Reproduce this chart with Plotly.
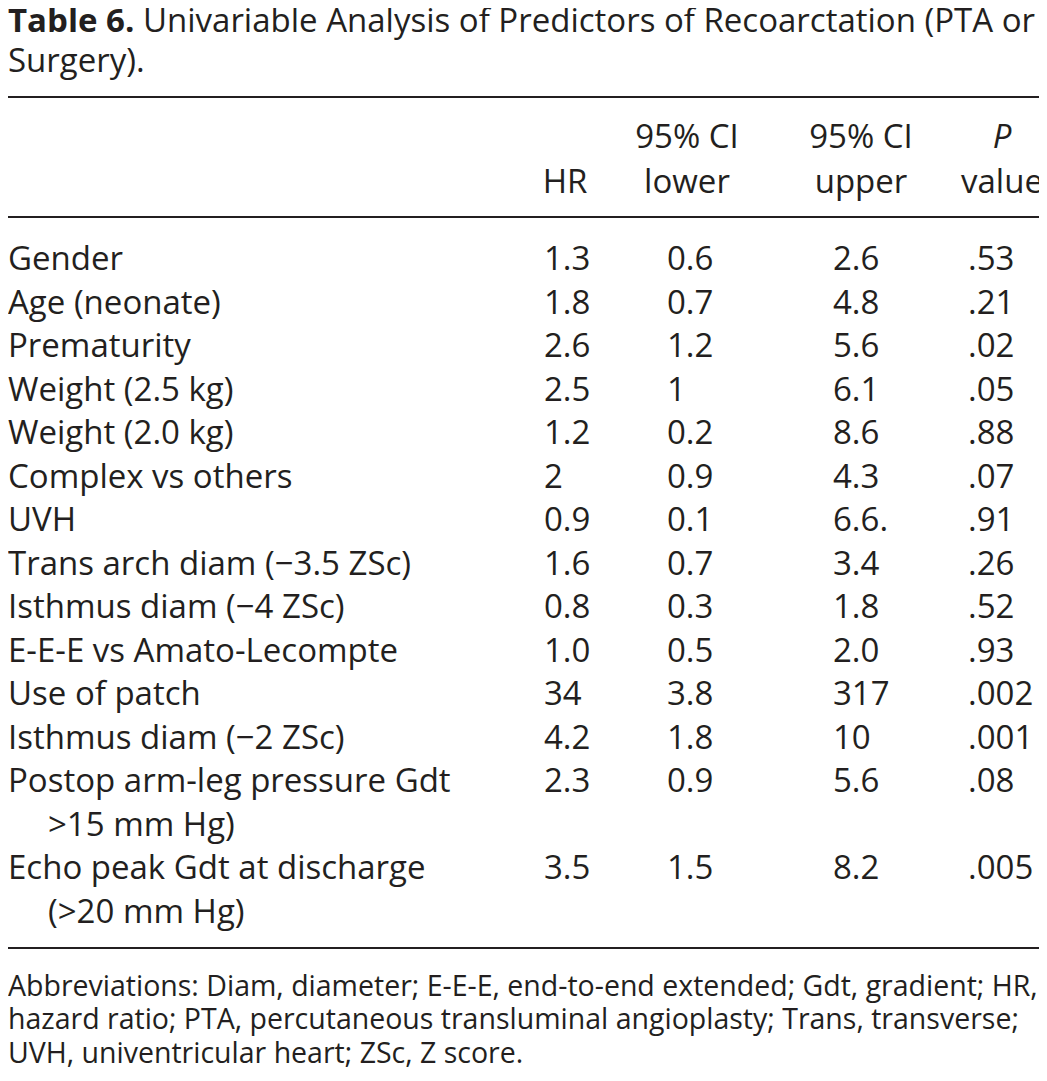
import plotly.graph_objects as go

# table content
title_lines = [
    "<b>Table 6.</b> Univariable Analysis of Predictors of Recoarctation (PTA or",
    "Surgery).",
]
col_headers = ["HR", "95% CI<br>lower", "95% CI<br>upper", "<i>P</i><br>value"]
predictors = [
    "Gender",
    "Age (neonate)",
    "Prematurity",
    "Weight (2.5 kg)",
    "Weight (2.0 kg)",
    "Complex vs others",
    "UVH",
    "Trans arch diam (\u22123.5 ZSc)",
    "Isthmus diam (\u22124 ZSc)",
    "E-E-E vs Amato-Lecompte",
    "Use of patch",
    "Isthmus diam (\u22122 ZSc)",
    "Postop arm-leg pressure Gdt<br>>15 mm Hg)",
    "Echo peak Gdt at discharge<br>(>20 mm Hg)",
]
hr = ["1.3", "1.8", "2.6", "2.5", "1.2", "2", "0.9", "1.6", "0.8", "1.0", "34", "4.2", "2.3", "3.5"]
ci_lower = ["0.6", "0.7", "1.2", "1", "0.2", "0.9", "0.1", "0.7", "0.3", "0.5", "3.8", "1.8", "0.9", "1.5"]
ci_upper = ["2.6", "4.8", "5.6", "6.1", "8.6", "4.3", "6.6.", "3.4", "1.8", "2.0", "317", "10", "5.6", "8.2"]
p_value = [".53", ".21", ".02", ".05", ".88", ".07", ".91", ".26", ".52", ".93", ".002", ".001", ".08", ".005"]
footnote_lines = [
    "Abbreviations: Diam, diameter; E-E-E, end-to-end extended; Gdt, gradient; HR,",
    "hazard ratio; PTA, percutaneous transluminal angioplasty; Trans, transverse;",
    "UVH, univentricular heart; ZSc, Z score.",
]

W, H = 1047, 1081
PAGE_PAD = 8  # default body margin of the html page
ink = "#231f20"
font_name = "Open Sans"
body_size = 33
title_size = 33
note_size = 28.5

# layout of the page (axis units = window pixels, y pointing down)
left_x = PAGE_PAD
first_row = 258
pitch = 43.5
indent = 40
value_x = [544, 667, 833, 968]
header_x = [565, 687, 861, 1002]
header_y = [136, 181]
title_y = [20, 60]
note_y = [985, 1018.5, 1052]
rules_y = [97, 217, 948]

# split labels over lines, rows follow each other line by line
first_y, first_txt, cont_y, cont_txt, row_y = [], [], [], [], []
line = 0
for label in predictors:
    parts = label.split("<br>")
    y0 = first_row + line * pitch
    row_y.append(y0)
    first_y.append(y0)
    first_txt.append(parts[0])
    for k, extra in enumerate(parts[1:], start=1):
        cont_y.append(first_row + (line + k) * pitch)
        cont_txt.append(extra)
    line += len(parts)

fig = go.Figure()


def add_text(xs, ys, texts, size, pos="middle right"):
    # plotly centres the text box a little above the cap-height middle
    nudge = 0.12 * size
    fig.add_trace(go.Scatter(
        x=xs, y=[v + nudge for v in ys], text=texts, mode="text", textposition=pos,
        textfont=dict(family=font_name, size=size, color=ink),
        marker=dict(size=0), cliponaxis=False,
        hoverinfo="skip", showlegend=False,
    ))


add_text([left_x] * len(title_lines), title_y, title_lines, title_size)
add_text([left_x] * len(first_txt), first_y, first_txt, body_size)
add_text([left_x + indent] * len(cont_txt), cont_y, cont_txt, body_size)

for cx, head in zip(header_x, col_headers):
    parts = head.split("<br>")
    ys = header_y[len(header_y) - len(parts):]
    add_text([cx] * len(parts), ys, parts, body_size, pos="middle center")

for vx, col in zip(value_x, [hr, ci_lower, ci_upper, p_value]):
    add_text([vx] * len(col), row_y, col, body_size)

add_text([left_x] * len(footnote_lines), note_y, footnote_lines, note_size)

for ry in rules_y:
    fig.add_shape(type="line", xref="x", yref="y", x0=0, x1=W, y0=ry, y1=ry,
                  line=dict(color=ink, width=2))

fig.update_layout(
    width=W - PAGE_PAD, height=H - PAGE_PAD,
    margin=dict(l=0, r=0, t=0, b=0),
    paper_bgcolor="white", plot_bgcolor="white",
    xaxis=dict(range=[PAGE_PAD, W], visible=False, fixedrange=True),
    yaxis=dict(range=[H, PAGE_PAD], visible=False, fixedrange=True),
)

fig.write_html("out.html")
